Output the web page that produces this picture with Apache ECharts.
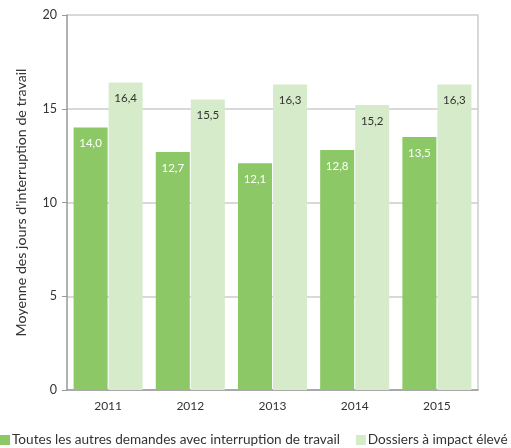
<!DOCTYPE html>
<html><head><meta charset="utf-8">
<script src="https://cdn.jsdelivr.net/npm/echarts@6/dist/echarts.min.js"></script>
<style>html,body{margin:0;padding:0;background:#fff}#c{width:511px;height:448px}</style>
</head><body><div id="c"></div>
<script>
var categories = ['2011','2012','2013','2014','2015'];
var autresDemandes = [14.0, 12.7, 12.1, 12.8, 13.5];
var impactEleve = [16.4, 15.5, 16.3, 15.2, 16.3];
var seriesNames = ['Toutes les autres demandes avec interruption de travail', 'Dossiers à impact élevé'];
var yAxisName = "Moyenne des jours d'interruption de travail";

var font = 'Lato';
function fmt(p){ return p.value.toFixed(1).replace('.', ','); }
var chart = echarts.init(document.getElementById('c'));
chart.setOption({
  animation: false,
  textStyle: {fontFamily: font},
  grid: {left: 67, right: 33, top: 15, bottom: 58},
  legend: {
    left: 0, bottom: 1, width: 1000, itemWidth: 10, itemHeight: 10, itemGap: 16,
    icon: 'rect', padding: [0, 0],
    textStyle: {fontFamily: font, fontSize: 13.6, color: '#333', padding: [0, 0, 0, -3]},
    data: seriesNames
  },
  xAxis: {
    type: 'category', data: categories,
    axisLine: {lineStyle: {color: '#999', width: 1.5}},
    axisTick: {show: false},
    axisLabel: {fontFamily: font, fontSize: 12, color: '#333', margin: 10}
  },
  yAxis: [{
    type: 'value', min: 0, max: 20, interval: 5,
    name: yAxisName, nameLocation: 'middle', nameGap: 39, nameRotate: 90,
    nameTextStyle: {fontFamily: font, fontSize: 14.2, color: '#333'},
    axisLine: {show: true, lineStyle: {color: '#999', width: 1.5}},
    axisTick: {show: true, length: 5, lineStyle: {color: '#999'}},
    axisLabel: {fontFamily: font, fontSize: 12.5, color: '#333', margin: 10},
    splitLine: {lineStyle: {color: '#ccc', width: 1.5}}
  }, {
    type: 'value', min: 0, max: 20, interval: 5, position: 'right',
    axisLine: {show: true, lineStyle: {color: '#ccc', width: 1.5}},
    axisTick: {show: false}, axisLabel: {show: false}, splitLine: {show: false}
  }],
  series: [{
    name: seriesNames[0], type: 'bar', data: autresDemandes,
    barGap: '3%', barCategoryGap: '16%',
    itemStyle: {color: '#8cc866'},
    label: {show: true, position: 'insideTop', distance: 10, formatter: fmt,
      color: '#fff', fontFamily: font, fontSize: 11.5}
  }, {
    name: seriesNames[1], type: 'bar', data: impactEleve,
    itemStyle: {color: '#d5ebc9'},
    label: {show: true, position: 'insideTop', distance: 10, formatter: fmt,
      color: '#333', fontFamily: font, fontSize: 11.5}
  }]
});
</script></body></html>
